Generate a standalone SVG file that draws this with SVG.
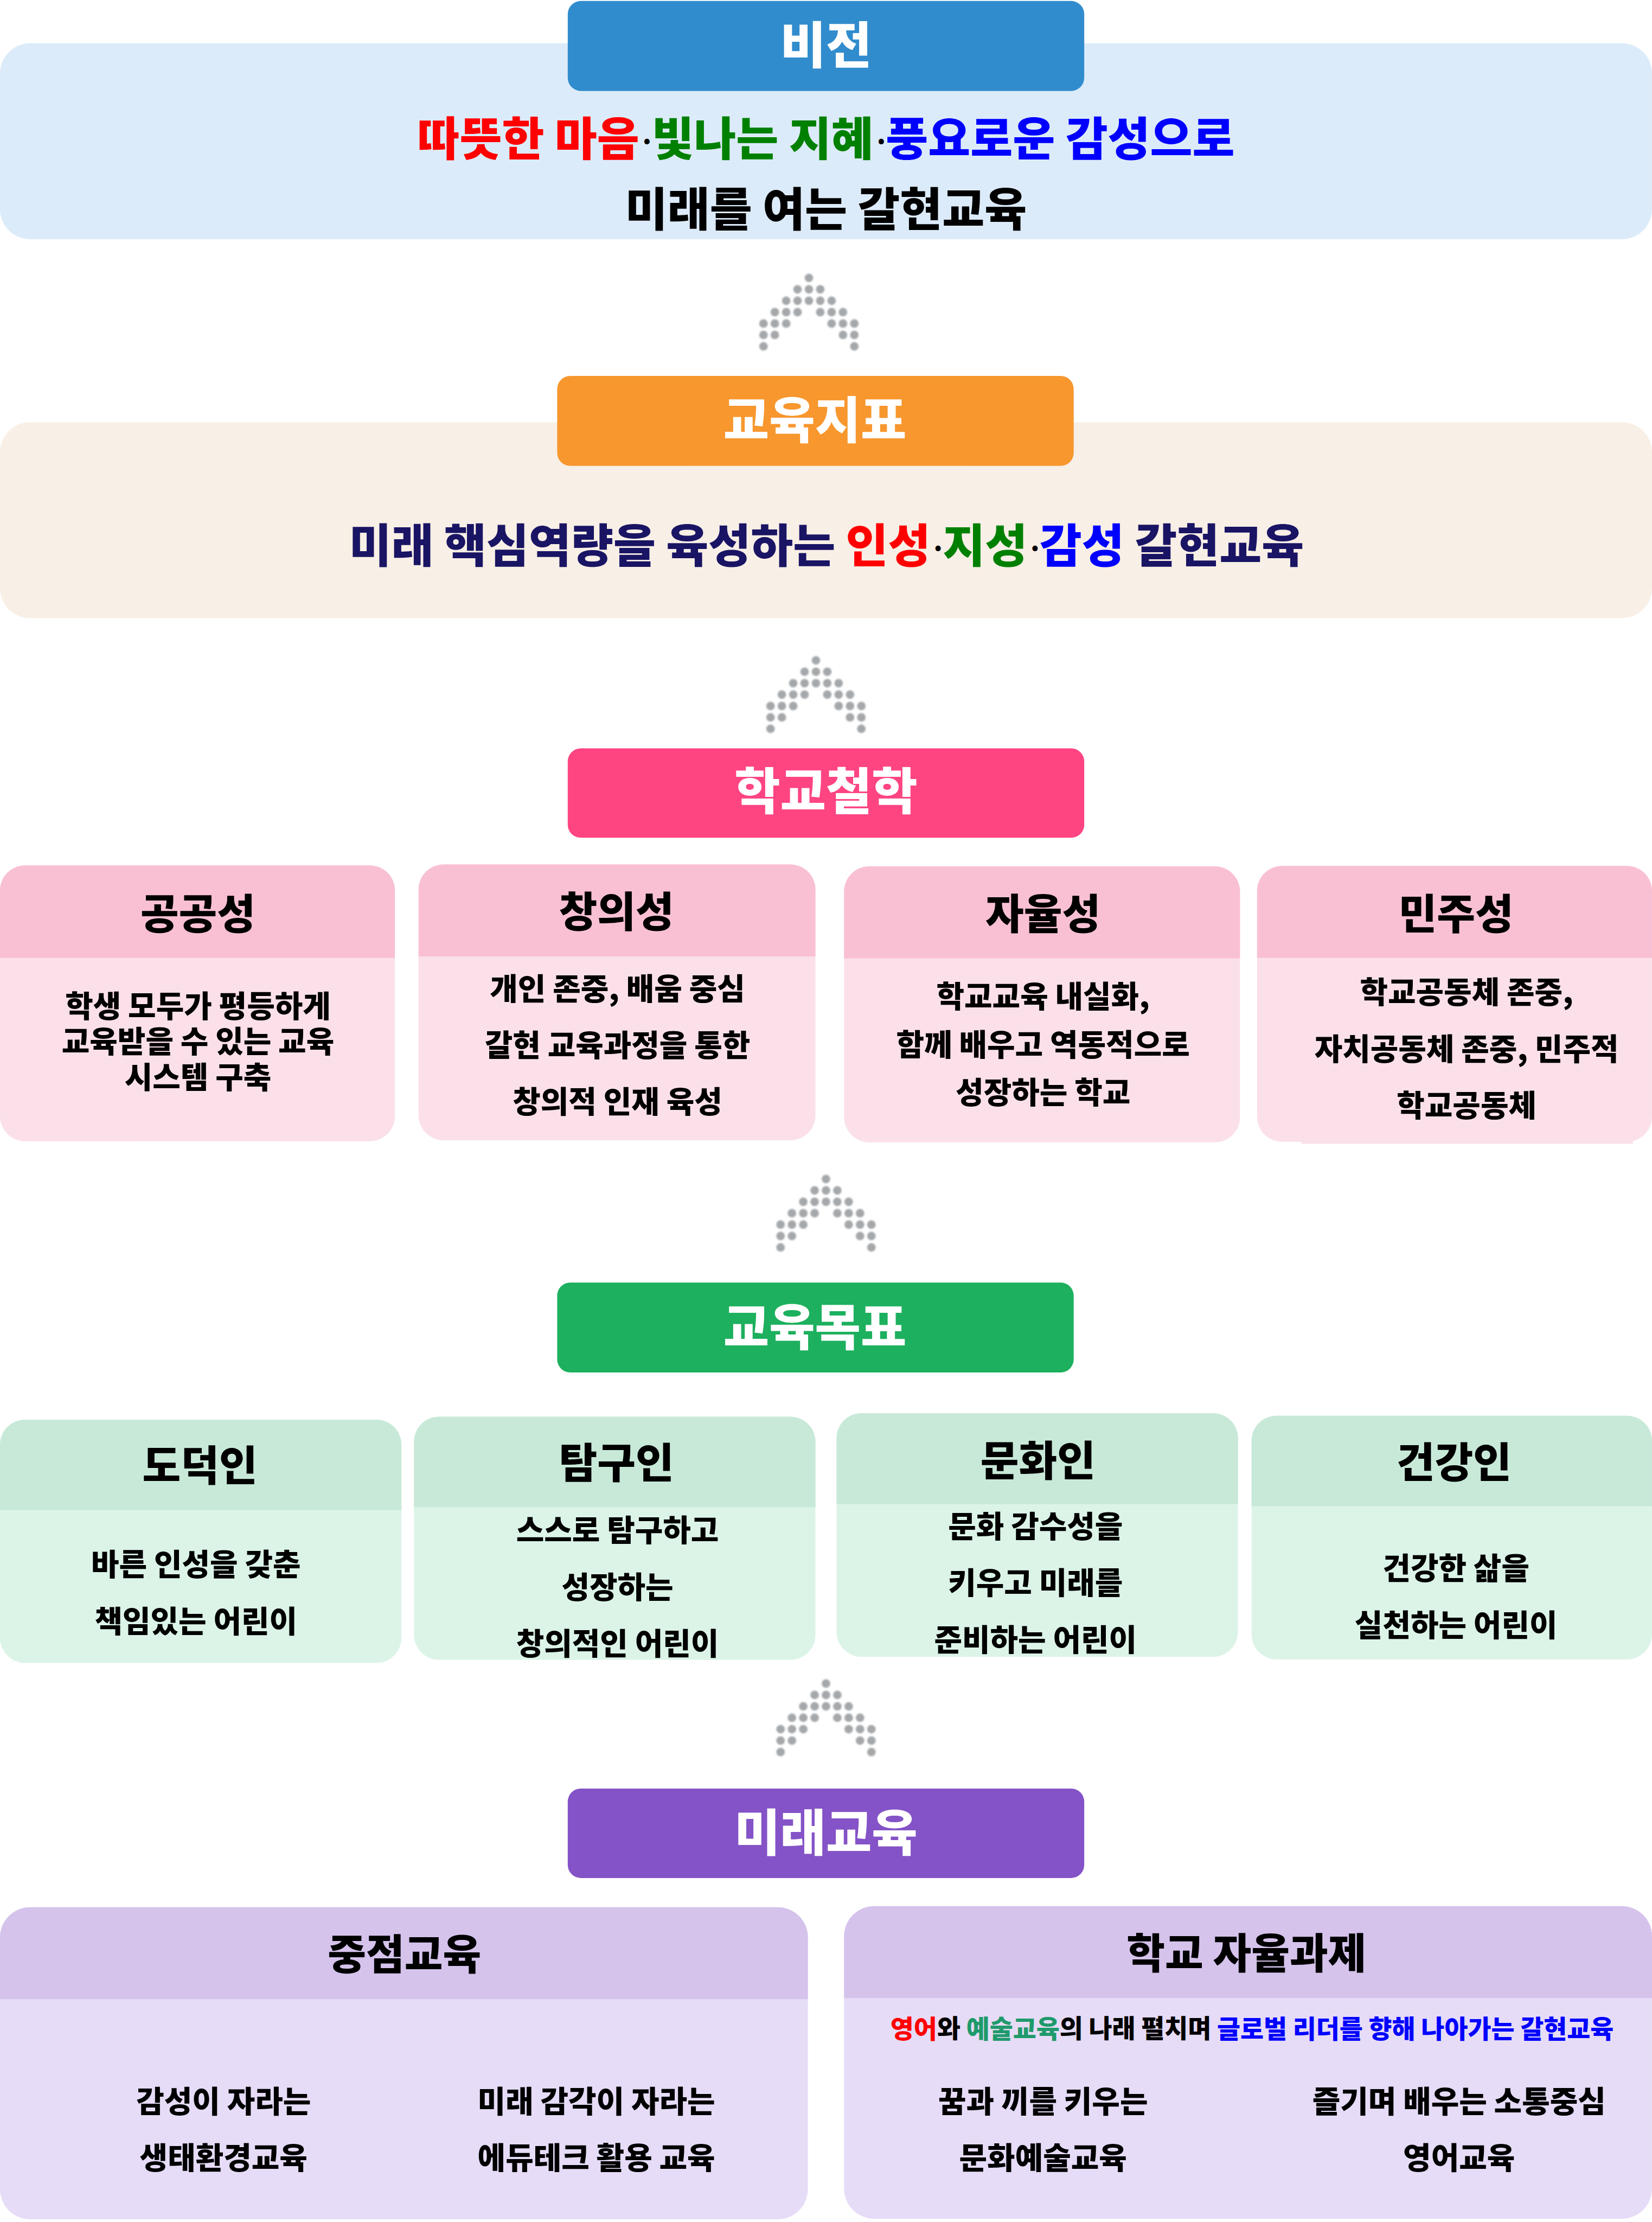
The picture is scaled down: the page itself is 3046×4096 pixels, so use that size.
<svg xmlns="http://www.w3.org/2000/svg" width="3046" height="4096" viewBox="0 0 3046 4096">
<style>
text{font-family:"Noto Sans CJK KR","Noto Sans",sans-serif;font-weight:900;text-anchor:middle;dominant-baseline:central;fill:#000;transform:translateY(-3.5px)}
.btn{fill:#fff;font-size:99px}
.lead{font-size:91.5px}
.h{font-size:83px}
.b{font-size:60.5px}
.s{font-size:50.5px}
.md{font-size:50px;letter-spacing:-6px;fill:#000}
.dot{fill:#a5a8ab}
</style>
<defs>
<filter id="soft" x="-5%" y="-5%" width="110%" height="110%"><feGaussianBlur stdDeviation="1.5"/></filter>
<g id="arrow" class="dot" filter="url(#soft)">
<circle cx="0" cy="0" r="8.5"/>
<circle cx="-22.6" cy="22.7" r="8.5"/><circle cx="0" cy="22.7" r="8.5"/><circle cx="22.6" cy="22.7" r="8.5"/>
<circle cx="-45.2" cy="45.4" r="8.5"/><circle cx="-22.6" cy="45.4" r="8.5"/><circle cx="0" cy="45.4" r="8.5"/><circle cx="22.6" cy="45.4" r="8.5"/><circle cx="45.2" cy="45.4" r="8.5"/>
<circle cx="-67.8" cy="68.1" r="8.5"/><circle cx="-45.2" cy="68.1" r="8.5"/><circle cx="-22.6" cy="68.1" r="8.5"/><circle cx="22.6" cy="68.1" r="8.5"/><circle cx="45.2" cy="68.1" r="8.5"/><circle cx="67.8" cy="68.1" r="8.5"/>
<circle cx="-90.4" cy="90.8" r="8.5"/><circle cx="-67.8" cy="90.8" r="8.5"/><circle cx="-45.2" cy="90.8" r="8.5"/><circle cx="45.2" cy="90.8" r="8.5"/><circle cx="67.8" cy="90.8" r="8.5"/><circle cx="90.4" cy="90.8" r="8.5"/>
<circle cx="-90.4" cy="113.5" r="8.5"/><circle cx="-67.8" cy="113.5" r="8.5"/><circle cx="67.8" cy="113.5" r="8.5"/><circle cx="90.4" cy="113.5" r="8.5"/>
<circle cx="-90.4" cy="136.2" r="8.5"/><circle cx="90.4" cy="136.2" r="8.5"/>
</g>
</defs>
<g transform="scale(0.92639)">
<g id="vision">
<rect x="0" y="86" width="3288" height="390" rx="60" fill="#dcebf9"/>
<rect x="1130" y="2" width="1028" height="179" rx="26" fill="#318ccd"/>
<text class="btn" x="1644" y="87">비전</text>
<text class="lead" x="1644" y="273"><tspan fill="#f00">따뜻한 마음</tspan><tspan class="md" dy="8">·</tspan><tspan fill="#008000" dy="-8">빛나는 지혜</tspan><tspan class="md" dy="8">·</tspan><tspan fill="#00f" dy="-8">풍요로운 감성으로</tspan></text>
<text class="lead" x="1644" y="414">미래를 여는 갈현교육</text>
</g>
<g id="goal">
<rect x="0" y="840" width="3288" height="390" rx="60" fill="#f8efe6"/>
<rect x="1109" y="748" width="1028" height="179" rx="26" fill="#f7972e"/>
<text class="btn" x="1622" y="832">교육지표</text>
<text class="lead" x="1645" y="1083"><tspan fill="#1a1464">미래 핵심역량을 육성하는 </tspan><tspan fill="#f00">인성</tspan><tspan class="md" dy="8">·</tspan><tspan fill="#008000" dy="-8">지성</tspan><tspan class="md" dy="8">·</tspan><tspan fill="#00f" dy="-8">감성</tspan><tspan fill="#1a1464"> 갈현교육</tspan></text>
</g>
<g id="philosophy">
<rect x="1130" y="1489" width="1028" height="178" rx="26" fill="#fe4582"/>
<text class="btn" x="1644" y="1571">학교철학</text>
</g>
<g id="phil-1"><rect x="0" y="1722" width="786" height="549" rx="50" fill="#fbe0ea"/><path d="M0 1906V1772a50 50 0 0 1 50-50H736a50 50 0 0 1 50 50V1906Z" fill="#f9c0d4"/>
<text class="h" x="394" y="1816">공공성</text><text class="b" x="394" y="2001">학생 모두가 평등하게</text><text class="b" x="394" y="2071">교육받을 수 있는 교육</text><text class="b" x="394" y="2142">시스템 구축</text></g>
<g id="phil-2"><rect x="833" y="1720" width="790" height="549" rx="50" fill="#fbe0ea"/><path d="M833 1903V1770a50 50 0 0 1 50-50H1573a50 50 0 0 1 50 50V1903Z" fill="#f9c0d4"/>
<text class="h" x="1227" y="1812">창의성</text><text class="b" x="1229" y="1966">개인 존중, 배움 중심</text><text class="b" x="1229" y="2079">갈현 교육과정을 통한</text><text class="b" x="1229" y="2191">창의적 인재 육성</text></g>
<g id="phil-3"><rect x="1680" y="1724" width="788" height="549" rx="50" fill="#fbe0ea"/><path d="M1680 1907V1774a50 50 0 0 1 50-50H2418a50 50 0 0 1 50 50V1907Z" fill="#f9c0d4"/>
<text class="h" x="2076" y="1816">자율성</text><text class="b" x="2076" y="1982">학교교육 내실화,</text><text class="b" x="2076" y="2078">함께 배우고 역동적으로</text><text class="b" x="2076" y="2173">성장하는 학교</text></g>
<g id="phil-4"><rect x="2502" y="1723" width="786" height="549" rx="50" fill="#fbe0ea"/><rect x="2590" y="2240" width="660" height="36" fill="#fbe0ea"/><path d="M2502 1906V1773a50 50 0 0 1 50-50H3238a50 50 0 0 1 50 50V1906Z" fill="#f9c0d4"/>
<text class="h" x="2898" y="1816">민주성</text><text class="b" x="2919" y="1973">학교공동체 존중,</text><text class="b" x="2919" y="2086">자치공동체 존중, 민주적</text><text class="b" x="2919" y="2199">학교공동체</text></g>
<g id="objective">
<rect x="1109" y="2552" width="1028" height="179" rx="26" fill="#1db05e"/>
<text class="btn" x="1622" y="2637">교육목표</text>
</g>
<g id="obj-1"><rect x="0" y="2825" width="799" height="484" rx="50" fill="#dcf4e8"/><path d="M0 3005V2875a50 50 0 0 1 50-50H749a50 50 0 0 1 50 50V3005Z" fill="#c8e9d8"/>
<text class="h" x="398" y="2914">도덕인</text><text class="b" x="390" y="3112">바른 인성을 갖춘</text><text class="b" x="390" y="3225">책임있는 어린이</text></g>
<g id="obj-2"><rect x="824" y="2819" width="799" height="484" rx="50" fill="#dcf4e8"/><path d="M824 2999V2869a50 50 0 0 1 50-50H1573a50 50 0 0 1 50 50V2999Z" fill="#c8e9d8"/>
<text class="h" x="1227" y="2909">탐구인</text><text class="b" x="1229" y="3044">스스로 탐구하고</text><text class="b" x="1229" y="3157">성장하는</text><text class="b" x="1229" y="3269">창의적인 어린이</text></g>
<g id="obj-3"><rect x="1665" y="2812" width="799" height="485" rx="50" fill="#dcf4e8"/><path d="M1665 2993V2862a50 50 0 0 1 50-50H2414a50 50 0 0 1 50 50V2993Z" fill="#c8e9d8"/>
<text class="h" x="2066" y="2905">문화인</text><text class="b" x="2061" y="3036">문화 감수성을</text><text class="b" x="2061" y="3149">키우고 미래를</text><text class="b" x="2061" y="3262">준비하는 어린이</text></g>
<g id="obj-4"><rect x="2491" y="2817" width="797" height="485" rx="50" fill="#dcf4e8"/><path d="M2491 2997V2867a50 50 0 0 1 50-50H3238a50 50 0 0 1 50 50V2997Z" fill="#c8e9d8"/>
<text class="h" x="2894" y="2908">건강인</text><text class="b" x="2898" y="3119">건강한 삶을</text><text class="b" x="2898" y="3233">실천하는 어린이</text></g>
<g id="future">
<rect x="1130" y="3559" width="1028" height="178" rx="26" fill="#8453c7"/>
<text class="btn" x="1644" y="3643">미래교육</text>
</g>
<g id="fut-1"><rect x="0" y="3795" width="1608" height="621" rx="60" fill="#e6dcf7"/><path d="M0 3978V3855a60 60 0 0 1 60-60H1548a60 60 0 0 1 60 60V3978Z" fill="#d5c3ec"/>
<text class="h" x="805" y="3887">중점교육</text>
<text class="b" x="445" y="4180">감성이 자라는</text><text class="b" x="445" y="4293">생태환경교육</text><text class="b" x="1187" y="4180">미래 감각이 자라는</text><text class="b" x="1187" y="4293">에듀테크 활용 교육</text></g>
<g id="fut-2"><rect x="1680" y="3793" width="1608" height="622" rx="60" fill="#e6dcf7"/><path d="M1680 3976V3853a60 60 0 0 1 60-60H3228a60 60 0 0 1 60 60V3976Z" fill="#d5c3ec"/>
<text class="h" x="2481" y="3885">학교 자율과제</text>
<text class="s" x="2492" y="4036"><tspan fill="#f00">영어</tspan>와 <tspan fill="#1f9a6b">예술교육</tspan>의 나래 펼치며 <tspan fill="#00f">글로벌 리더를 향해 나아가는 갈현교육</tspan></text>
<text class="b" x="2076" y="4180">꿈과 끼를 키우는</text><text class="b" x="2076" y="4293">문화예술교육</text><text class="b" x="2904" y="4180">즐기며 배우는 소통중심</text><text class="b" x="2904" y="4293">영어교육</text></g>
<g id="connectors">
<use href="#arrow" x="1610" y="553"/>
<use href="#arrow" x="1624" y="1314"/>
<use href="#arrow" x="1644" y="2346"/>
<use href="#arrow" x="1644" y="3350"/>
</g>
</g>
</svg>
